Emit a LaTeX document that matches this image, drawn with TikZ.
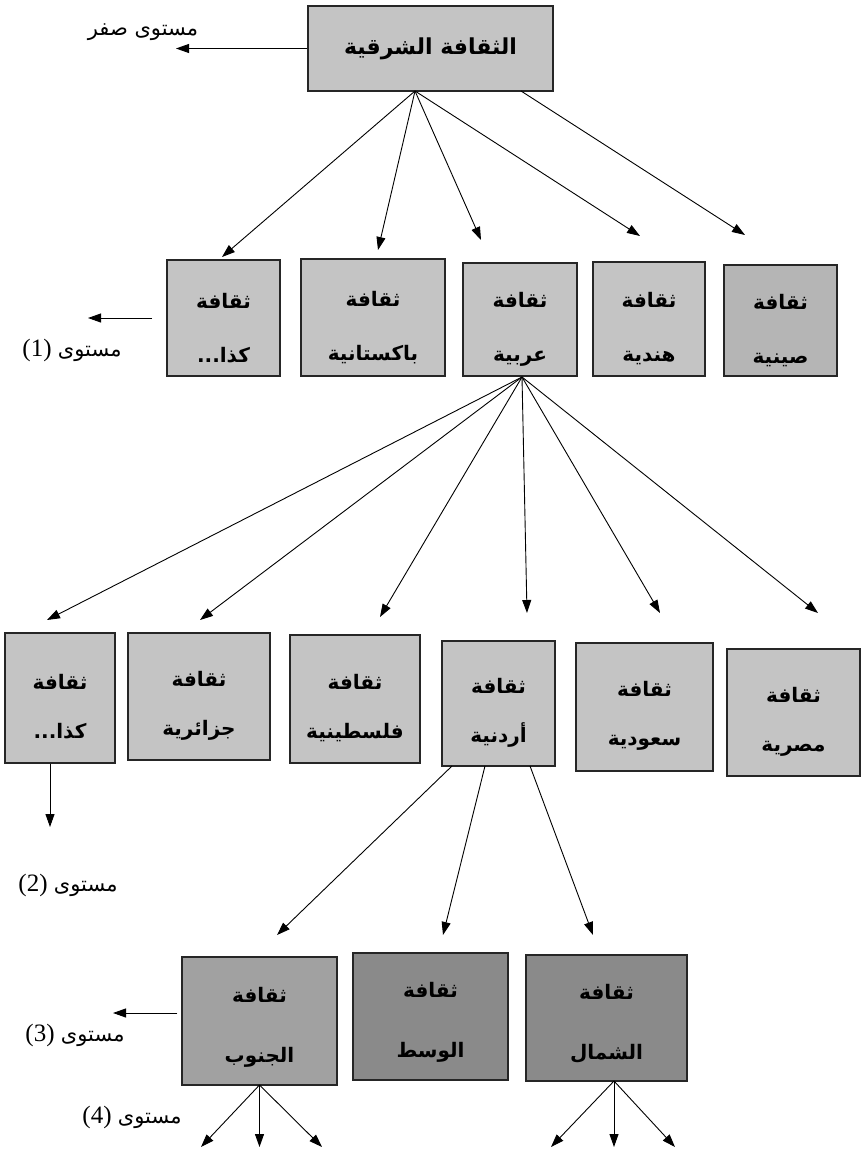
\documentclass[tikz,border=0pt]{standalone}
\usepackage{fontspec}
\setmainfont{Liberation Serif}
\newfontfamily\arabicfont[Script=Arabic]{DejaVu Sans}
\usetikzlibrary{arrows.meta}
\TeXXeTstate=1
\begin{document}
\begin{tikzpicture}[x=1pt,y=-1pt,
  box/.style={draw=black!85, line width=1.2pt, fill=black!23, inner sep=0pt},
  txtA/.style={inner sep=0pt, align=center, font=\arabicfont\bfseries\fontsize{20}{54}\selectfont},
  txtB/.style={inner sep=0pt, align=center, font=\arabicfont\bfseries\fontsize{20}{49}\selectfont},
  txtC/.style={inner sep=0pt, align=center, font=\arabicfont\bfseries\fontsize{20}{60}\selectfont},
  arr/.style={line width=0.9pt, -{Triangle[length=13pt,width=9pt]}},
  lbl/.style={inner sep=0pt, font=\fontsize{25}{28}\selectfont},
  ar/.style={font=\arabicfont\fontsize{21}{24}\selectfont},
]
\useasboundingbox (0,0) rectangle (864,1153);

% level 0
\node[box, minimum width=245pt, minimum height=85pt, font=\arabicfont\bfseries\fontsize{22}{26}\selectfont] (top) at (430.5,48.5) {\beginR الثقافة الشرقية\endR};
\node[inner sep=0pt, ar] (t0) at (143,32) {\beginR مستوى صفر\endR};
\coordinate (a0) at (176,48.5);
\draw[arr] (top.west) -- (a0);

% level 1
\node[box, minimum width=113pt, minimum height=116pt] (l1a) at (223.5,318) {};
\node[box, minimum width=144pt, minimum height=117pt] (l1b) at (373,317.5) {};
\node[box, minimum width=114pt, minimum height=113pt] (l1c) at (520,319.5) {};
\node[box, minimum width=112pt, minimum height=114pt] (l1d) at (649,319) {};
\node[box, minimum width=113pt, minimum height=111pt, fill=black!29] (l1e) at (780.5,320.5) {};
\node[txtA] (l1at) at ([yshift=-10pt]l1a.center) {\beginR ثقافة\endR\\\beginR كذا...\endR};
\node[txtA] (l1bt) at ([yshift=-10pt]l1b.center) {\beginR ثقافة\endR\\\beginR باكستانية\endR};
\node[txtA] (l1ct) at ([yshift=-10pt]l1c.center) {\beginR ثقافة\endR\\\beginR عربية\endR};
\node[txtA] (l1dt) at ([yshift=-10pt]l1d.center) {\beginR ثقافة\endR\\\beginR هندية\endR};
\node[txtA] (l1et) at ([yshift=-10pt]l1e.center) {\beginR ثقافة\endR\\\beginR صينية\endR};

\coordinate (o0) at (415,91);
\coordinate (o0b) at (521,91);
\coordinate (p1a) at (222,257);
\coordinate (p1b) at (378,250);
\coordinate (p1c) at (481,240);
\coordinate (p1d) at (640,236);
\coordinate (p1e) at (745,235);
\draw[arr] (o0) -- (p1a);
\draw[arr] (o0) -- (p1b);
\draw[arr] (o0) -- (p1c);
\draw[arr] (o0) -- (p1d);
\draw[arr] (o0b) -- (p1e);

\node[lbl] (t1) at (72,350) {(1) {\arabicfont\fontsize{21}{24}\selectfont\beginR مستوى\endR}};
\coordinate (s1) at (152,318);
\coordinate (e1) at (88,318);
\draw[arr] (s1) -- (e1);

% level 2
\node[box, minimum width=110pt, minimum height=130pt] (l2a) at (60,698) {};
\node[box, minimum width=142pt, minimum height=127pt] (l2b) at (199,696.5) {};
\node[box, minimum width=130pt, minimum height=128pt] (l2c) at (355,699) {};
\node[box, minimum width=113pt, minimum height=125pt] (l2d) at (498.5,703.5) {};
\node[box, minimum width=137pt, minimum height=128pt] (l2e) at (644.5,707) {};
\node[box, minimum width=133pt, minimum height=127pt] (l2f) at (793.5,712.5) {};
\node[txtB] (l2at) at ([yshift=-9pt]l2a.center) {\beginR ثقافة\endR\\\beginR كذا...\endR};
\node[txtB] (l2bt) at ([yshift=-9pt]l2b.center) {\beginR ثقافة\endR\\\beginR جزائرية\endR};
\node[txtB] (l2ct) at ([yshift=-9pt]l2c.center) {\beginR ثقافة\endR\\\beginR فلسطينية\endR};
\node[txtB] (l2dt) at ([yshift=-9pt]l2d.center) {\beginR ثقافة\endR\\\beginR أردنية\endR};
\node[txtB] (l2et) at ([yshift=-9pt]l2e.center) {\beginR ثقافة\endR\\\beginR سعودية\endR};
\node[txtB] (l2ft) at ([yshift=-9pt]l2f.center) {\beginR ثقافة\endR\\\beginR مصرية\endR};

\coordinate (o1) at (522,377);
\coordinate (p2a) at (47,620);
\coordinate (p2b) at (200,620);
\coordinate (p2c) at (380,617);
\coordinate (p2d) at (527,613);
\coordinate (p2e) at (660,613);
\coordinate (p2f) at (818,613);
\draw[arr] (o1) -- (p2a);
\draw[arr] (o1) -- (p2b);
\draw[arr] (o1) -- (p2c);
\draw[arr] (o1) -- (p2d);
\draw[arr] (o1) -- (p2e);
\draw[arr] (o1) -- (p2f);

\coordinate (d2) at (50,827);
\draw[arr] (d2 |- l2a.south) -- (d2);
\node[lbl] (t2) at (68,885) {(2) {\arabicfont\fontsize{21}{24}\selectfont\beginR مستوى\endR}};

% level 3
\node[box, minimum width=155pt, minimum height=128pt, fill=black!37] (l3a) at (259.5,1021) {};
\node[box, minimum width=155pt, minimum height=127pt, fill=black!46] (l3b) at (430.5,1016.5) {};
\node[box, minimum width=161pt, minimum height=126pt, fill=black!46] (l3c) at (606.5,1018) {};
\node[txtC] (l3at) at ([yshift=-6pt]l3a.center) {\beginR ثقافة\endR\\\beginR الجنوب\endR};
\node[txtC] (l3bt) at ([yshift=-6pt]l3b.center) {\beginR ثقافة\endR\\\beginR الوسط\endR};
\node[txtC] (l3ct) at ([yshift=-6pt]l3c.center) {\beginR ثقافة\endR\\\beginR الشمال\endR};

\coordinate (o2a) at (452,766);
\coordinate (o2b) at (485,766);
\coordinate (o2c) at (530,766);
\coordinate (p3a) at (277,935);
\coordinate (p3b) at (443,935);
\coordinate (p3c) at (593,935);
\draw[arr] (o2a) -- (p3a);
\draw[arr] (o2b) -- (p3b);
\draw[arr] (o2c) -- (p3c);

\coordinate (a3) at (113,1013);
\draw[arr, shorten <=4pt] (a3 -| l3a.west) -- (a3);
\node[lbl] (t3) at (75,1035) {(3) {\arabicfont\fontsize{21}{24}\selectfont\beginR مستوى\endR}};

% level 4
\node[lbl] (t4) at (132,1117) {(4) {\arabicfont\fontsize{21}{24}\selectfont\beginR مستوى\endR}};
\coordinate (o3a) at (259.5,1085);
\coordinate (o3c) at (614,1081);
\coordinate (p4a) at (201,1147);
\coordinate (p4b) at (259.5,1147);
\coordinate (p4c) at (322,1147);
\coordinate (p4d) at (551,1147);
\coordinate (p4e) at (614,1147);
\coordinate (p4f) at (675,1147);
\draw[arr] (o3a) -- (p4a);
\draw[arr] (o3a) -- (p4b);
\draw[arr] (o3a) -- (p4c);
\draw[arr] (o3c) -- (p4d);
\draw[arr] (o3c) -- (p4e);
\draw[arr] (o3c) -- (p4f);
\end{tikzpicture}
\end{document}
